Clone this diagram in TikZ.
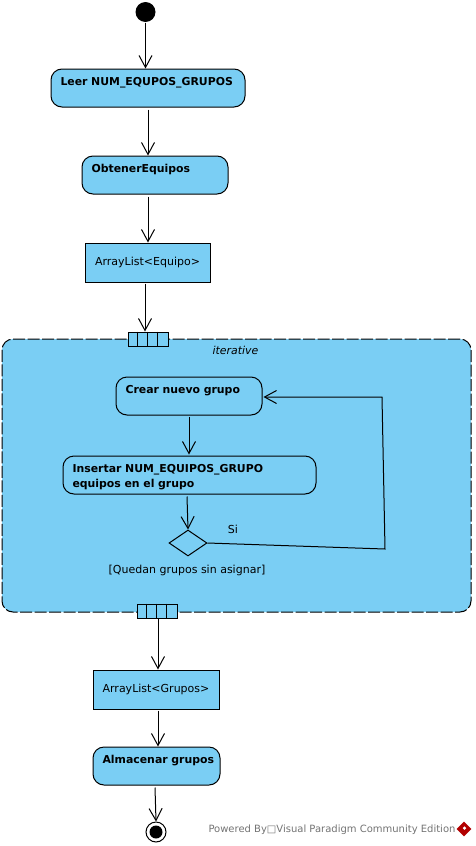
\documentclass[tikz,border=0pt]{standalone}
\usepackage{fontspec}
\setmainfont{DejaVu Sans}
\usetikzlibrary{arrows.meta,calc,shapes.geometric}

\definecolor{umlblue}{HTML}{7ACEF4}

\tikzset{
  action/.style={draw, fill=umlblue, rounded corners=11pt, inner xsep=0pt, inner ysep=0pt, align=left,
    font=\bfseries\fontsize{10.9}{15}\selectfont, text height=16pt, text depth=22pt},
  objbox/.style={draw, fill=umlblue, inner sep=0pt, font=\fontsize{11}{11}\selectfont},
  pinbox/.style={draw, fill=umlblue, inner sep=0pt, minimum width=40pt, minimum height=14pt},
  flow/.style={-{Straight Barb[length=12pt,width=13pt]}},
  plaintext/.style={inner sep=0pt, font=\fontsize{11}{11}\selectfont},
}

\begin{document}
\begin{tikzpicture}[x=1pt, y=-1pt, line width=1pt]

\useasboundingbox (0, 0) rectangle (476, 846);

\node[circle, fill=black, inner sep=0pt, minimum size=20pt] (start) at (145.5, 12) {};

\node[action, text width=175pt, minimum width=194pt] (leer) at (148, 88) {Leer NUM\_EQUPOS\_GRUPOS};
\node[action, text width=127pt, minimum width=146pt] (obtener) at (155, 175) {ObtenerEquipos};
\node[objbox, minimum width=125pt, minimum height=39pt] (equipos) at (147.5, 262.5) {ArrayList<Equipo>};

% region
\node[draw, fill=umlblue, dash pattern=on 12pt off 2.5pt, rounded corners=11pt, inner sep=0pt,
  minimum width=469pt, minimum height=273pt] (region) at (236.5, 475.5) {};
\node[plaintext, font=\itshape\fontsize{10.9}{11}\selectfont] (iter) at (235.5, 350) {iterative};

\node[pinbox] (pintop) at (148, 339) {};
\foreach \k in {1, 2, 3}
  \draw ($(pintop.north west) + (\k*10, 0)$) -- ($(pintop.south west) + (\k*10, 0)$);
\node[pinbox] (pinbot) at (157, 611) {};
\foreach \k in {1, 2, 3}
  \draw ($(pinbot.north west) + (\k*10, 0)$) -- ($(pinbot.south west) + (\k*10, 0)$);

\node[action, text width=127pt, minimum width=146pt] (crear) at (189, 396) {Crear nuevo grupo};
\node[action, text width=234pt, minimum width=253pt] (insertar) at (189.5, 475) {Insertar NUM\_EQUIPOS\_GRUPO\\equipos en el grupo};
\node[diamond, draw, aspect=1.46, inner sep=0pt, minimum width=38pt, minimum height=26pt] (deci) at (188, 543) {};
\node[plaintext] (si) at (233, 529) {Si};
\node[plaintext] (guard) at (187, 570) {[Quedan grupos sin asignar]};

\node[objbox, minimum width=126pt, minimum height=39pt] (grupos) at (156, 689.5) {ArrayList<Grupos>};
\node[action, text width=108pt, minimum width=127pt] (almacenar) at (156.5, 766) {\mbox{Almacenar grupos}};

\node[circle, draw, inner sep=0pt, minimum size=20pt] (fin) at (156, 832) {};
\node[circle, fill=black, inner sep=0pt, minimum size=13pt] (findot) at (156, 832) {};

\coordinate (loopa) at (385, 549);
\coordinate (loopb) at (382, 397);

% \draw [flow] (start) to (leer);
\draw[flow] (start.south) -- ($(leer.north) + (-2.5, 0)$);
\draw[flow] ($(leer.south) + (0, 2)$) -- ($(obtener.north) + (-7, 0)$);
\draw[flow] ($(obtener.south) + (-7, 2)$) -- ($(equipos.north) + (0.5, 0)$);
\draw[flow] ($(equipos.south) + (-2.5, 1)$) -- ($(pintop.north) + (-3, 0)$);
\draw[flow] ($(crear.south) + (0, 1)$) -- ($(insertar.north) + (-0.5, -1)$);
\draw[flow] ($(insertar.south) + (-2.5, 2)$) -- (deci.north);
\draw[flow] (deci.east) -- (loopa) -- (loopb) -- ($(crear.east) + (1, 1)$);
\draw[flow] ($(pinbot.south) + (1, 0)$) -- ($(grupos.north) + (2, 0)$);
\draw[flow] ($(grupos.south) + (2, 1)$) -- ($(almacenar.north) + (1.5, 0)$);
\draw[flow] ($(almacenar.south) + (-1.5, 2)$) -- (fin.north);

\node[plaintext, anchor=west, text=black!55, font=\fontsize{10}{10}\selectfont] (power) at (208, 829.5) {Powered By□Visual Paradigm Community Edition};
\node[diamond, fill=red!70!black, inner sep=0pt, minimum size=15pt] (logo) at (464, 829) {};
\node[circle, fill=white, inner sep=0pt, minimum size=3.5pt] (logohole) at (464.5, 828) {};

\end{tikzpicture}
\end{document}
